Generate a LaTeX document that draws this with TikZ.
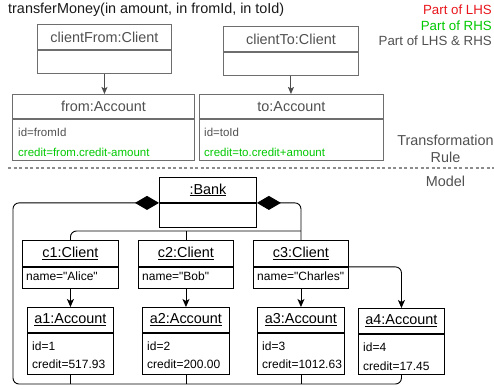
\documentclass[tikz,border=0pt]{standalone}
\usepackage{fontspec}
\setmainfont{Liberation Sans}[Ligatures=TeXOff]
\usetikzlibrary{arrows.meta}
\definecolor{ruleline}{RGB}{110,110,110}
\definecolor{ruletext}{RGB}{80,80,80}
\definecolor{lhsred}{RGB}{232,22,28}
\definecolor{rhsgreen}{RGB}{0,200,0}
\definecolor{sepgray}{RGB}{140,140,140}
\newcommand{\umlobj}[8]{%
  \node[#8, minimum width=#4, minimum height=#5, anchor=north west] (#1) at (#2,#3) {#7};
  \node[#8, minimum width=#4, minimum height=#6, anchor=north] (#1b) at (#1.south) {};
}
\begin{document}
\begin{tikzpicture}[x=1pt,y=-1pt,
  hfont/.style={font=\fontsize{14.4}{17}\selectfont},
  rulebox/.style={draw=ruleline, line width=0.9pt, inner sep=0pt, text=ruletext, hfont},
  modelbox/.style={draw=black, line width=0.9pt, inner sep=0pt, text=black, hfont},
  ruleattr/.style={anchor=west, inner sep=0pt, text=ruletext, font=\fontsize{11.5}{14}\selectfont},
  modelattr/.style={anchor=west, inner sep=0pt, text=black, font=\fontsize{12}{14}\selectfont},
  rulearrow/.style={draw=ruleline!70!black, line width=1pt, -{Stealth[length=7pt,width=6pt,inset=1.5pt]}},
  modelline/.style={draw=black, line width=0.9pt, rounded corners=6pt},
  modelarrow/.style={modelline, -{Stealth[length=8pt,width=7pt,inset=2pt]}},
  compo/.style={modelline, {Diamond[length=24pt,width=14pt]}-},
  legend/.style={anchor=east, inner sep=0pt, font=\fontsize{13.3}{16}\selectfont},
  sidelabel/.style={inner sep=0pt, text=ruletext, hfont}
]
\useasboundingbox (0,0) rectangle (494,389);

% title and legend
\node[anchor=west, inner sep=0pt, hfont, text=black!90] (title) at (8,10) {transferMoney(in amount, in fromId, in toId)};
\node[legend, text=lhsred] (lhs) at (492,10) {Part of LHS};
\node[legend, text=rhsgreen] (rhs) at (492,25.5) {Part of RHS};
\node[legend, text=ruletext] (both) at (492,41) {Part of LHS \& RHS};

% transformation rule
\umlobj{cf}{37}{24}{134}{25}{23}{clientFrom:Client}{rulebox}
\umlobj{ct}{223}{26}{135}{25}{23}{clientTo:Client}{rulebox}
\umlobj{fa}{12}{94}{182}{24}{41}{from:Account}{rulebox}
\umlobj{ta}{199}{94}{184}{24}{41}{to:Account}{rulebox}
\node[ruleattr] (faid) at (18,132) {id=fromId};
\node[ruleattr, text=rhsgreen] (facr) at (18,152) {credit=from.credit-amount};
\node[ruleattr] (taid) at (204,132) {id=toId};
\node[ruleattr, text=rhsgreen] (tacr) at (204,152) {credit=to.credit+amount};
\draw[rulearrow] (cfb.south) -- (cfb.south |- fa.north);
\draw[rulearrow] (ctb.south) -- (ctb.south |- ta.north);

\node[sidelabel] (tr1) at (445.5,140) {Transformation};
\node[sidelabel] (tr2) at (445.5,157) {Rule};
\node[sidelabel] (mdl) at (445.5,181) {Model};
\draw[sepgray, line width=1.2pt, dash pattern=on 3pt off 2.5pt] (8,168) -- (494,168);

% model
\umlobj{bank}{159}{177}{97}{25}{24}{\underline{:Bank}}{modelbox}
\umlobj{c1}{22}{240}{96}{26}{21}{\underline{c1:Client}}{modelbox}
\umlobj{c2}{138}{240}{95}{26}{21}{\underline{c2:Client}}{modelbox}
\umlobj{c3}{253}{240}{95}{26}{21}{\underline{c3:Client}}{modelbox}
\umlobj{a1}{27}{307}{86}{25}{41}{\underline{a1:Account}}{modelbox}
\umlobj{a2}{142}{307}{87}{25}{41}{\underline{a2:Account}}{modelbox}
\umlobj{a3}{257}{307}{87}{25}{41}{\underline{a3:Account}}{modelbox}
\umlobj{a4}{358}{308}{86}{25}{40}{\underline{a4:Account}}{modelbox}

\node[modelattr] (c1n) at (26,276.5) {name="Alice"};
\node[modelattr] (c2n) at (142,276.5) {name="Bob"};
\node[modelattr] (c3n) at (257,276.5) {name="Charles"};
\node[modelattr] (a1i) at (32,346) {id=1};
\node[modelattr] (a1c) at (32,364) {credit=517.93};
\node[modelattr] (a2i) at (147,346) {id=2};
\node[modelattr] (a2c) at (147,364) {credit=200.00};
\node[modelattr] (a3i) at (262,346) {id=3};
\node[modelattr] (a3c) at (262,364) {credit=1012.63};
\node[modelattr] (a4i) at (363,347) {id=4};
\node[modelattr] (a4c) at (363,366) {credit=17.45};

% composition Bank -> clients
\coordinate (jn) at (c3.north |- 0,231);
\draw[compo] (bank.south east) -- (c3.north |- bank.south east) -- (c3.north);
\draw[modelline] (c1.north) |- (jn);
\draw[modelline] (c2.north) -- (c2.north |- jn);

% composition Bank -> accounts
\coordinate (bl) at (13,384);
\draw[compo] (bank.south west) -- (bl |- bank.south west) -- (bl) -- (a4b.south |- bl) -- (a4b.south);
\draw[modelline] (a1b.south) -- (a1b.south |- bl);
\draw[modelline] (a2b.south) -- (a2b.south |- bl);
\draw[modelline] (a3b.south) -- (a3b.south |- bl);

% client -> account links
\draw[modelarrow] (c1b.south) -- (c1b.south |- a1.north);
\draw[modelarrow] (c2b.south) -- (c2b.south |- a2.north);
\draw[modelarrow] (c3b.south) -- (c3b.south |- a3.north);
\draw[modelarrow] (c3.south east) -| (a4.north);
\end{tikzpicture}
\end{document}
